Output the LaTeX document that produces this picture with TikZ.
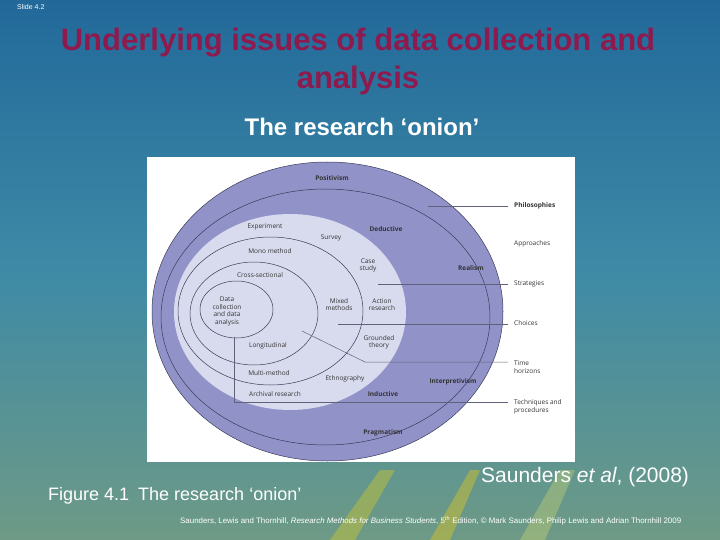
\documentclass[tikz,border=0pt]{standalone}
\usepackage{fontspec}
\setmainfont{Liberation Sans}
\newfontfamily\onionfont{Open Sans}
\definecolor{titlered}{HTML}{8E1A4E}
\definecolor{oniondark}{HTML}{9193C8}
\definecolor{onionlight}{HTML}{D8DBEE}
\definecolor{lineclr}{HTML}{3A3A5A}
\definecolor{bgtop}{HTML}{22699A}
\definecolor{bgmid}{HTML}{3E8AA6}
\definecolor{bgbot}{HTML}{6E9A86}
\begin{document}
\begin{tikzpicture}[x=1pt,y=-1pt,
  lbl/.style={font=\onionfont\fontsize{6.5}{7.5}\selectfont,text=black!80,align=center,inner sep=0},
  blbl/.style={lbl,font=\onionfont\bfseries\fontsize{6.5}{7.5}\selectfont},
  rlbl/.style={lbl,anchor=west,align=left},
  ring/.style={draw=lineclr,line width=0.5pt},
  lead/.style={draw=lineclr!80,line width=0.5pt}]
\useasboundingbox (0,0) rectangle (720,540);
\shade[top color=bgtop,bottom color=bgbot,middle color=bgmid] (0,0) rectangle (720,540);
\fill[yellow!70!orange,opacity=0.35] (430,540) -- (470,470) -- (480,470) -- (450,540) -- cycle;
\fill[yellow!60!white,opacity=0.25] (520,540) -- (560,470) -- (575,470) -- (545,540) -- cycle;
\fill[yellow!80!orange,opacity=0.3] (330,540) -- (380,470) -- (395,470) -- (355,540) -- cycle;
\node[font=\fontsize{7}{8}\selectfont,text=white,anchor=west,inner sep=0] (slide) at (17,7) {Slide 4.2};
\node[font=\bfseries\fontsize{31}{38}\selectfont,text=titlered,align=center] (title) at (358,61) {Underlying issues of data collection and\\analysis};
\node[font=\bfseries\fontsize{24}{26}\selectfont,text=white] (sub) at (362,127) {The research ‘onion’};
% panel
\fill[white] (147,157) rectangle (575,462);
\fill[oniondark] (327.5,311.5) ellipse [x radius=175.5,y radius=149.5];
\draw[ring] (327.5,311.5) ellipse [x radius=175.5,y radius=149.5];
\draw[ring] (325.5,317) ellipse [x radius=164.5,y radius=128];
\fill[onionlight] (290,312) ellipse [x radius=116,y radius=98];
\draw[ring] (270.5,311) ellipse [x radius=92.5,y radius=74];
\draw[ring] (254,313.5) ellipse [x radius=64,y radius=51.5];
\draw[ring] (236.5,309.5) ellipse [x radius=36.5,y radius=28.5];
% leaders
\coordinate (p1) at (428,206.5); \coordinate (p2) at (508,206.5);
\coordinate (s1) at (378,284); \coordinate (s2) at (508,284);
\coordinate (c1) at (338,324); \coordinate (c2) at (508,324);
\coordinate (t1) at (302,331); \coordinate (t2) at (365,362); \coordinate (t3) at (508,362);
\coordinate (q1) at (234,337); \coordinate (q2) at (234,402); \coordinate (q3) at (508,402);
\draw[lead] (p1) -- (p2);
\draw[lead] (s1) -- (s2);
\draw[lead] (c1) -- (c2);
\draw[lead] (t1) -- (t2) -- (t3);
\draw[lead] (q1) -- (q2) -- (q3);
% right labels
\node[rlbl,font=\onionfont\bfseries\fontsize{6.5}{7.5}\selectfont] (phil) at (514,206) {Philosophies};
\node[rlbl] (appr) at (514,244) {Approaches};
\node[rlbl] (strat) at (514,284) {Strategies};
\node[rlbl] (choi) at (514,323) {Choices};
\node[rlbl] (time) at (514,367) {Time\\horizons};
\node[rlbl] (tech) at (514,407) {Techniques and\\procedures};
% inner labels
\node[blbl] (pos) at (332,178) {Positivism};
\node[blbl] (ded) at (386,229) {Deductive};
\node[blbl] (real) at (471,268) {Realism};
\node[blbl] (interp) at (453,382) {Interpretivism};
\node[blbl] (ind) at (383,394) {Inductive};
\node[blbl] (prag) at (383,433) {Pragmatism};
\node[lbl] (exp) at (265,227) {Experiment};
\node[lbl] (surv) at (331,238) {Survey};
\node[lbl] (mono) at (270,251) {Mono method};
\node[lbl] (case) at (368,265.5) {Case\\study};
\node[lbl] (cross) at (260,275) {Cross-sectional};
\node[lbl] (data) at (227,311.5) {Data\\collection\\and data\\analysis};
\node[lbl] (mixed) at (339,304.5) {Mixed\\methods};
\node[lbl] (action) at (382,304.5) {Action\\research};
\node[lbl] (ground) at (379,342.5) {Grounded\\theory};
\node[lbl] (long) at (268,346) {Longitudinal};
\node[lbl] (multi) at (269,373) {Multi-method};
\node[lbl] (ethno) at (345,379) {Ethnography};
\node[lbl] (arch) at (275,394) {Archival research};
% captions
\node[font=\fontsize{18}{20}\selectfont,text=white,anchor=west,inner sep=0] (fig) at (48,496) {Figure 4.1\hspace{0.5em}The research ‘onion’};
\node[font=\fontsize{21}{23}\selectfont,text=white,anchor=west,inner sep=0] (saund) at (481,477) {Saunders \textit{et al}, (2008)};
\node[font=\fontsize{7.9}{9}\selectfont,text=white,anchor=west,inner sep=0] (foot) at (180,521) {Saunders, Lewis and Thornhill, \textit{Research Methods for Business Students}, 5\textsuperscript{th} Edition, © Mark Saunders, Philip Lewis and Adrian Thornhill 2009};
\end{tikzpicture}
\end{document}
